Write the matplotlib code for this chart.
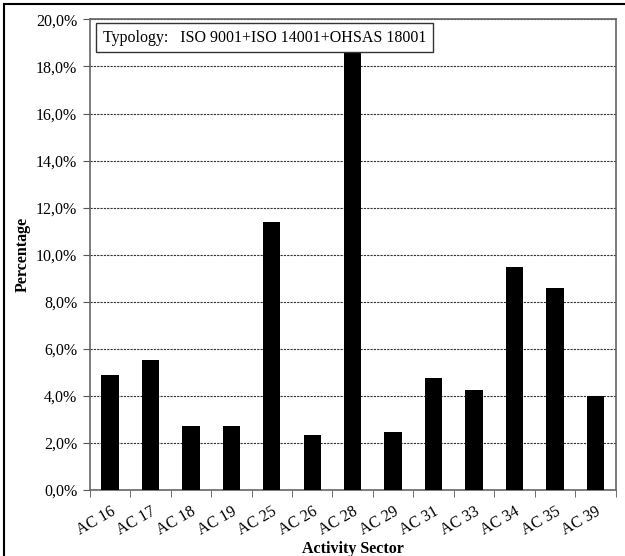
import numpy as np
import matplotlib.pyplot as plt
from matplotlib.patches import Rectangle

sectors = ['AC 16', 'AC 17', 'AC 18', 'AC 19', 'AC 25', 'AC 26', 'AC 28',
           'AC 29', 'AC 31', 'AC 33', 'AC 34', 'AC 35', 'AC 39']
share = [4.87, 5.51, 2.71, 2.71, 11.38, 2.33, 18.57,
         2.47, 4.74, 4.23, 9.46, 8.58, 3.99]
yticks = np.arange(0, 21, 2)

plt.rcParams['font.family'] = ['Liberation Serif', 'DejaVu Serif']

fig = plt.figure(figsize=(6.25, 5.56), dpi=100)
ax = fig.add_axes([0.1435, 0.1192, 0.8415, 0.8458])

x = np.arange(len(sectors))
ax.bar(x, share, width=0.43, color='black', zorder=3)

ax.set_xlim(-0.5, len(sectors) - 0.5)
ax.set_ylim(0, 20)
ax.set_yticks(yticks)
ax.set_yticklabels(['%d,0%%' % v for v in yticks], fontsize=11.5)
ax.set_xticks(x)
ax.set_xticklabels(sectors, fontsize=11.5, rotation=30, ha='right',
                   rotation_mode='anchor')
ax.set_xticks(np.arange(-0.5, len(sectors)), minor=True)
ax.tick_params(axis='x', which='major', length=0, pad=10)
ax.tick_params(axis='x', which='minor', length=5, color='#555555', direction='out')
ax.tick_params(axis='y', length=5, color='#555555', direction='out', pad=4)

ax.yaxis.grid(True, linestyle=(0, (2, 1)), color='#333333', linewidth=0.8, zorder=0)
for s in ax.spines.values():
    s.set_color('#666666')
    s.set_linewidth(1.2)

ax.set_ylabel('Percentage', fontsize=11.5, fontweight='bold', labelpad=4)
ax.set_xlabel('Activity Sector', fontsize=11.5, fontweight='bold', labelpad=2)

ax.text(0.025, 0.978, 'Typology:   ISO 9001+ISO 14001+OHSAS 18001',
        transform=ax.transAxes, fontsize=11.5, va='top', ha='left', zorder=5,
        bbox=dict(boxstyle='square,pad=0.4', facecolor='white',
                  edgecolor='#333333', linewidth=1))

# outer frame (cropped at right and bottom)
fig.patches.append(Rectangle((4 / 625, -0.1), 1.2, 1 - 4 / 556 + 0.1,
                             transform=fig.transFigure, fill=False,
                             edgecolor='black', linewidth=1.5))

fig.savefig('out.png', dpi=100)
